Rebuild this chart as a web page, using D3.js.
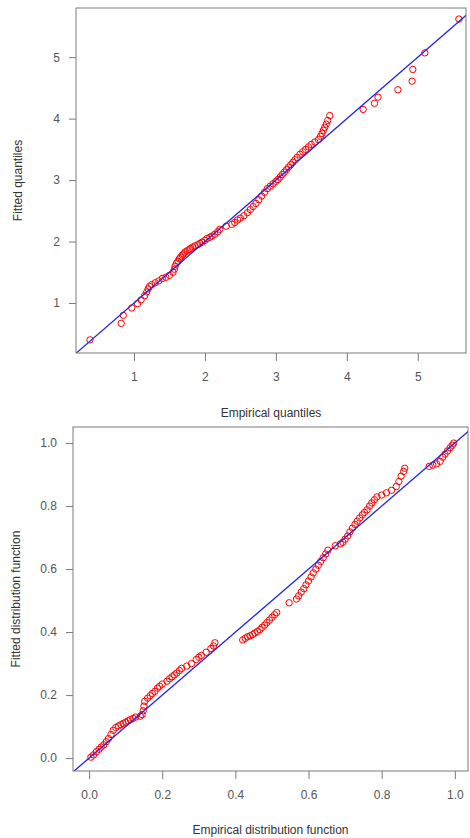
<!DOCTYPE html>
<html>
<head>
<meta charset="utf-8">
<script src="https://cdn.jsdelivr.net/npm/d3@7"></script>
<style>
  html, body { margin: 0; padding: 0; background: #fff; }
  svg { display: block; font-family: "Liberation Sans", Arial, sans-serif; }
</style>
</head>
<body>
<script>
// ---- Q-Q plot data ----
const qqEmpirical = [0.38,0.82,0.85,0.97,1.05,1.10,1.15,1.18,1.20,1.22,1.25,1.30,1.35,1.40,1.45,1.50,1.55,1.57,1.58,1.60,
  1.62,1.64,1.66,1.68,1.70,1.72,1.75,1.78,1.80,1.83,1.86,1.90,1.93,1.96,2.00,2.03,2.07,2.10,2.14,2.18,
  2.21,2.30,2.38,2.42,2.46,2.50,2.55,2.60,2.64,2.68,2.72,2.76,2.80,2.84,2.88,2.92,2.96,3.00,3.03,3.06,
  3.09,3.12,3.15,3.18,3.21,3.24,3.27,3.30,3.34,3.38,3.42,3.46,3.50,3.55,3.60,3.63,3.65,3.67,3.69,3.71,
  3.73,3.76,4.23,4.39,4.44,4.72,4.92,4.93,5.10,5.58];
const qqFitted = [0.40,0.67,0.80,0.92,0.99,1.05,1.12,1.18,1.23,1.27,1.30,1.33,1.36,1.40,1.42,1.45,1.50,1.55,1.60,1.65,
  1.68,1.72,1.75,1.78,1.80,1.83,1.85,1.87,1.89,1.91,1.93,1.95,1.97,1.99,2.02,2.05,2.07,2.09,2.12,2.16,
  2.20,2.25,2.28,2.31,2.35,2.38,2.42,2.47,2.52,2.57,2.62,2.68,2.74,2.80,2.86,2.90,2.94,2.98,3.01,3.05,
  3.09,3.13,3.17,3.21,3.25,3.29,3.33,3.37,3.42,3.46,3.50,3.54,3.58,3.62,3.66,3.71,3.76,3.81,3.86,3.91,
  3.97,4.05,4.15,4.25,4.35,4.47,4.61,4.80,5.07,5.62];
const qqTicks = [1, 2, 3, 4, 5];

// ---- P-P plot data ----
const ppEmpirical = [0.005,0.012,0.020,0.027,0.033,0.040,0.047,0.053,0.060,0.066,0.073,0.080,0.087,0.093,0.100,0.107,0.113,0.120,0.127,0.140,
  0.145,0.148,0.150,0.152,0.160,0.167,0.173,0.180,0.187,0.193,0.200,0.213,0.220,0.227,0.233,0.240,0.247,0.253,0.267,0.280,
  0.293,0.300,0.307,0.320,0.333,0.340,0.344,0.420,0.427,0.433,0.440,0.447,0.453,0.460,0.467,0.473,0.480,0.486,0.493,0.500,
  0.507,0.513,0.547,0.567,0.573,0.580,0.587,0.593,0.600,0.607,0.613,0.620,0.627,0.633,0.640,0.647,0.653,0.673,0.687,0.694,
  0.700,0.707,0.713,0.720,0.727,0.733,0.740,0.747,0.753,0.760,0.767,0.773,0.780,0.787,0.800,0.813,0.827,0.840,0.847,0.853,
  0.860,0.863,0.930,0.940,0.950,0.960,0.967,0.973,0.980,0.987,0.993,0.997];
const ppFitted = [0.003,0.010,0.020,0.028,0.035,0.042,0.052,0.062,0.075,0.088,0.097,0.102,0.106,0.110,0.114,0.118,0.122,0.126,0.130,0.133,
  0.138,0.150,0.165,0.180,0.190,0.198,0.205,0.212,0.222,0.228,0.235,0.244,0.252,0.258,0.264,0.270,0.278,0.285,0.292,0.300,
  0.313,0.320,0.326,0.336,0.348,0.356,0.366,0.375,0.380,0.385,0.388,0.392,0.397,0.402,0.408,0.415,0.422,0.430,0.438,0.447,
  0.455,0.462,0.493,0.505,0.515,0.527,0.538,0.550,0.562,0.575,0.588,0.600,0.612,0.624,0.636,0.648,0.660,0.674,0.680,0.685,
  0.695,0.705,0.718,0.730,0.742,0.752,0.762,0.772,0.780,0.788,0.800,0.810,0.820,0.829,0.835,0.842,0.850,0.862,0.878,0.895,
  0.910,0.920,0.926,0.930,0.934,0.942,0.955,0.965,0.975,0.985,0.993,1.000];
const ppTicks = [0.0, 0.2, 0.4, 0.6, 0.8, 1.0];

const W = 470, H = 838;
const svg = d3.select("body").append("svg").attr("width", W).attr("height", H);

const axisColor = "#7a7a7a", textColor = "#555";

function panel(cfg) {
  const x = d3.scaleLinear().domain(cfg.xDomain).range([cfg.left, cfg.right]);
  const y = d3.scaleLinear().domain(cfg.yDomain).range([cfg.bottom, cfg.top]);
  const g = svg.append("g");
  const clipId = "clip" + cfg.id;
  svg.append("defs").append("clipPath").attr("id", clipId)
    .append("rect").attr("x", cfg.left).attr("y", cfg.top)
    .attr("width", cfg.right - cfg.left).attr("height", cfg.bottom - cfg.top);

  // points
  const pts = cfg.xs.map((v, i) => [v, cfg.ys[i]]);
  g.append("g").selectAll("circle").data(pts).join("circle")
    .attr("cx", d => x(d[0])).attr("cy", d => y(d[1])).attr("r", 3.2)
    .attr("fill", "none").attr("stroke", "#ff0000").attr("stroke-width", 1);

  // y = x reference line
  const lo = Math.min(cfg.xDomain[0], cfg.yDomain[0]), hi = Math.max(cfg.xDomain[1], cfg.yDomain[1]);
  g.append("line").attr("clip-path", `url(#${clipId})`)
    .attr("x1", x(lo)).attr("y1", y(lo)).attr("x2", x(hi)).attr("y2", y(hi))
    .attr("stroke", "#2323e6").attr("stroke-width", 1.3);

  // box
  g.append("rect").attr("x", cfg.left).attr("y", cfg.top)
    .attr("width", cfg.right - cfg.left).attr("height", cfg.bottom - cfg.top)
    .attr("fill", "none").attr("stroke", axisColor).attr("stroke-width", 1);

  const xa = g.append("g").attr("transform", `translate(0,${cfg.bottom})`)
    .call(d3.axisBottom(x).tickValues(cfg.ticksX).tickFormat(cfg.fmt).tickSize(8).tickSizeOuter(0).tickPadding(11));
  const ya = g.append("g").attr("transform", `translate(${cfg.left},0)`)
    .call(d3.axisLeft(y).tickValues(cfg.ticksY).tickFormat(cfg.fmt).tickSize(7).tickSizeOuter(0).tickPadding(9));
  [xa, ya].forEach(a => {
    a.select(".domain").remove();
    a.selectAll("line").attr("stroke", axisColor);
    a.selectAll("text").attr("fill", textColor).style("font-size", "12px")
      .style("font-family", '"Liberation Sans", Arial, sans-serif');
  });

  g.append("text").attr("x", (cfg.left + cfg.right) / 2).attr("y", cfg.xTitleY)
    .attr("text-anchor", "middle").attr("fill", "#333").style("font-size", "12px")
    .text(cfg.xTitle);
  g.append("text").attr("transform", `translate(${cfg.yTitleX},${(cfg.top + cfg.bottom) / 2}) rotate(-90)`)
    .attr("text-anchor", "middle").attr("fill", "#333").style("font-size", "12px")
    .text(cfg.yTitle);
}

panel({
  id: "qq", left: 76, right: 466, top: 8, bottom: 353,
  xDomain: [0.183, 5.68], yDomain: [0.187, 5.80],
  xs: qqEmpirical, ys: qqFitted, ticksX: qqTicks, ticksY: qqTicks,
  fmt: d3.format("d"),
  xTitle: "Empirical quantiles", xTitleY: 417,
  yTitle: "Fitted quantiles", yTitleX: 22
});

panel({
  id: "pp", left: 73, right: 468, top: 427, bottom: 771,
  xDomain: [-0.044, 1.036], yDomain: [-0.041, 1.051],
  xs: ppEmpirical, ys: ppFitted, ticksX: ppTicks, ticksY: ppTicks,
  fmt: d3.format(".1f"),
  xTitle: "Empirical distribution function", xTitleY: 834,
  yTitle: "Fitted distribution function", yTitleX: 20
});
</script>
</body>
</html>
